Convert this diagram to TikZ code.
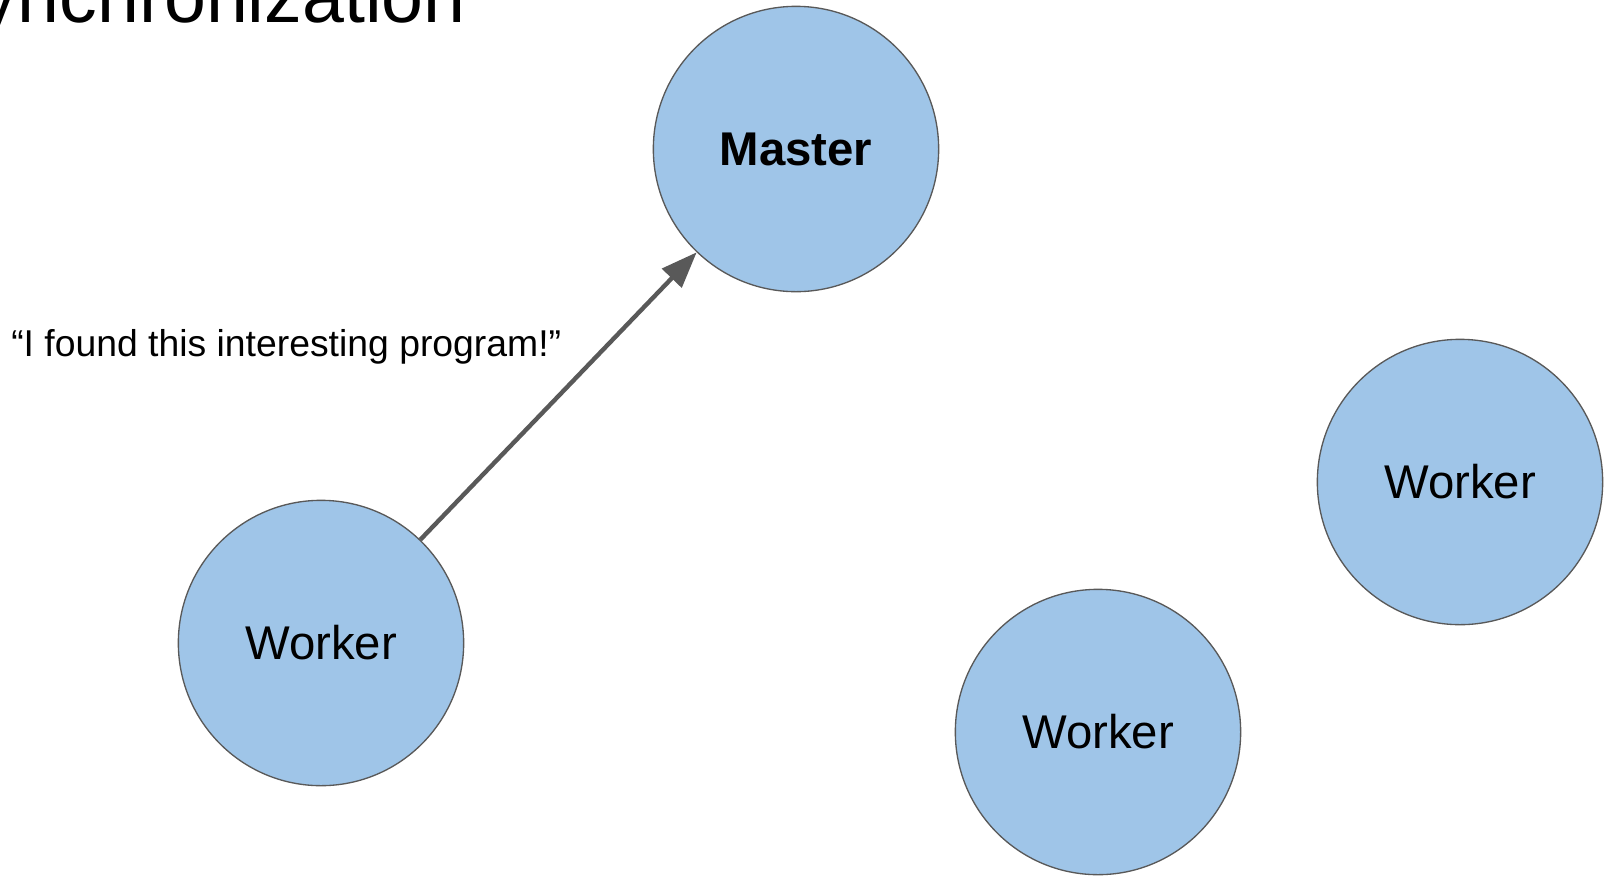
\documentclass[tikz,border=0pt]{standalone}
\usepackage{fontspec}
\setmainfont{Liberation Sans}
\usetikzlibrary{arrows.meta}
\definecolor{ballblue}{HTML}{9FC5E8}
\definecolor{darkgray}{HTML}{595959}
\begin{document}
\begin{tikzpicture}[x=0.75pt, y=-0.75pt,
    >={Triangle[length=27pt, width=20pt]},
    ball/.style={circle, draw=darkgray, line width=1pt, fill=ballblue,
        minimum size=214pt, inner sep=0pt, font=\fontsize{35.5}{42}\selectfont}]
    \useasboundingbox (0,0) rectangle (1604,876);
    \clip (0,0) rectangle (1604,876);
    \node [anchor=base east, inner sep=0, font=\fontsize{56.5}{68}\selectfont] (title) at (466,22) {Synchronization};
    \node [ball] (master) at (796,149) {\textbf{Master}};
    \node [ball] (wleft) at (321,643) {Worker};
    \node [ball] (wright) at (1460,482) {Worker};
    \node [ball] (wbottom) at (1098,732) {Worker};
    \draw [->, line width=3.3pt, darkgray] (wleft) -- (master);
    \node [anchor=west, inner sep=0, font=\fontsize{28}{34}\selectfont] (msg) at (11,347) {“I found this interesting program!”};
\end{tikzpicture}
\end{document}
